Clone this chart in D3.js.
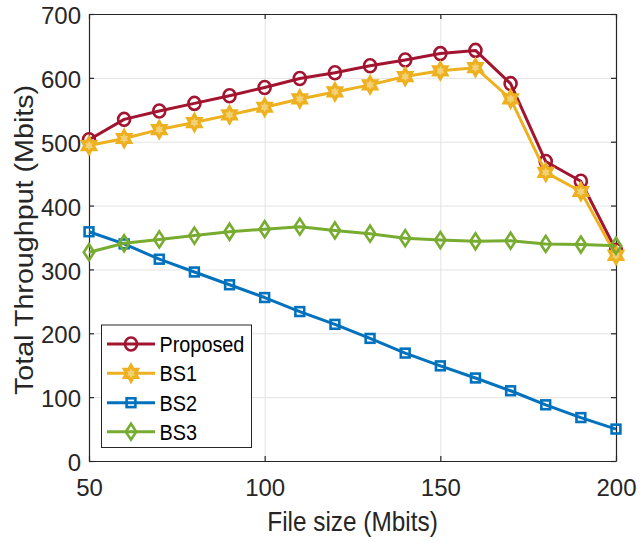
<!DOCTYPE html>
<html>
<head>
<meta charset="utf-8">
<script src="https://cdn.jsdelivr.net/npm/d3@7"></script>
<style>
  html, body { margin: 0; padding: 0; background: #fff; }
  svg { display: block; font-family: "Liberation Sans", Arial, Helvetica, sans-serif; }
</style>
</head>
<body>
<svg id="chart" width="643" height="542"></svg>
<script>
// File size (Mbits) on the x axis
const fileSize = [50, 60, 70, 80, 90, 100, 110, 120, 130, 140, 150, 160, 170, 180, 190, 200];
// Total throughput (Mbits) per scheme
const proposed = [503, 535, 548, 560, 572, 585, 599, 608, 619, 628, 638, 643, 591, 469, 438, 330];
const bs1      = [494, 505, 519, 530, 542, 554, 567, 578, 589, 602, 611, 616, 567, 452, 422, 322];
const bs2      = [359, 340, 316, 296, 276, 256, 234, 214, 192, 169, 149, 130, 110, 88, 68, 50];
const bs3      = [327, 341, 347, 353, 359, 363, 367, 361, 356, 349, 346, 344, 345, 340, 339, 337];

const seriesNames = ["Proposed", "BS1", "BS2", "BS3"];
const xTicks = [50, 100, 150, 200];
const yTicks = [0, 100, 200, 300, 400, 500, 600, 700];

const series = [
  { name: seriesNames[0], values: proposed, color: "#A2142F", marker: "circle" },
  { name: seriesNames[1], values: bs1,      color: "#EDB120", marker: "hexagram" },
  { name: seriesNames[2], values: bs2,      color: "#0072BD", marker: "square" },
  { name: seriesNames[3], values: bs3,      color: "#77AC30", marker: "diamond" }
];

const svg = d3.select("#chart");
const plotL = 89, plotR = 616, plotT = 14, plotB = 461;
const W = plotR - plotL, H = plotB - plotT;
const ink = "#262626";

const x = d3.scaleLinear().domain([50, 200]).range([plotL, plotR]);
const y = d3.scaleLinear().domain([0, 700]).range([plotB, plotT]);

// grid lines
const grid = svg.append("g").attr("class", "grid");
grid.append("g").attr("transform", `translate(0,${plotB})`)
  .call(d3.axisBottom(x).tickValues(xTicks).tickSize(-H).tickFormat(""))
  .call(g => g.select(".domain").remove());
grid.append("g").attr("transform", `translate(${plotL},0)`)
  .call(d3.axisLeft(y).tickValues(yTicks).tickSize(-W).tickFormat(""))
  .call(g => g.select(".domain").remove());
grid.selectAll("line").attr("stroke", "#e3e3e3").attr("stroke-width", 1);

// axes (box with inward ticks)
const tickLen = 5;
const axB = svg.append("g").attr("transform", `translate(0,${plotB})`)
  .call(d3.axisBottom(x).tickValues(xTicks).tickSizeInner(-tickLen).tickSizeOuter(0).tickPadding(18).tickFormat(d3.format("d")));
const axL = svg.append("g").attr("transform", `translate(${plotL},0)`)
  .call(d3.axisLeft(y).tickValues(yTicks).tickSizeInner(-tickLen).tickSizeOuter(0).tickPadding(8).tickFormat(d3.format("d")));
const axT = svg.append("g").attr("transform", `translate(0,${plotT})`)
  .call(d3.axisTop(x).tickValues(xTicks).tickSizeInner(-tickLen).tickSizeOuter(0).tickFormat(""));
const axR = svg.append("g").attr("transform", `translate(${plotR},0)`)
  .call(d3.axisRight(y).tickValues(yTicks).tickSizeInner(-tickLen).tickSizeOuter(0).tickFormat(""));

[axB, axL, axT, axR].forEach(a => {
  a.select(".domain").attr("stroke", ink).attr("stroke-width", 1.2);
  a.selectAll(".tick line").attr("stroke", ink).attr("stroke-width", 1.2);
  a.selectAll(".tick text").attr("fill", ink).attr("font-size", 24)
    .attr("font-family", "Liberation Sans, Arial, sans-serif");
});
axL.selectAll(".tick text").attr("dy", "0.40em");

// axis titles
svg.append("text")
  .attr("transform", `translate(${(plotL + plotR) / 2},531) scale(0.87,1)`)
  .attr("text-anchor", "middle").attr("font-size", 28).attr("fill", ink)
  .text("File size (Mbits)");
svg.append("text")
  .attr("transform", `translate(33,240) rotate(-90) scale(1,0.87)`)
  .attr("text-anchor", "middle").attr("font-size", 28.7).attr("fill", ink)
  .text("Total Throughput (Mbits)");

// marker shapes
function hexagramPath(R) {
  const r = R / Math.sqrt(3);
  const pts = [];
  for (let i = 0; i < 12; i++) {
    const a = -Math.PI / 2 + i * Math.PI / 6;
    const rr = i % 2 === 0 ? R : r;
    pts.push([rr * Math.cos(a), rr * Math.sin(a)]);
  }
  return "M" + pts.map(p => p.join(",")).join("L") + "Z";
}
function drawMarker(g, type, color) {
  const sw = 2.6;
  if (type === "circle") {
    g.append("ellipse").attr("rx", 6.0).attr("ry", 6.5)
      .attr("fill", "none").attr("stroke", color).attr("stroke-width", sw);
  } else if (type === "square") {
    g.append("rect").attr("x", -4.4).attr("y", -4.4).attr("width", 8.8).attr("height", 8.8)
      .attr("fill", "none").attr("stroke", color).attr("stroke-width", sw);
  } else if (type === "diamond") {
    g.append("path").attr("d", "M0,-8L5.2,0L0,8L-5.2,0Z")
      .attr("fill", "none").attr("stroke", color).attr("stroke-width", sw);
  } else if (type === "hexagram") {
    g.append("path").attr("d", hexagramPath(8))
      .attr("transform", "scale(0.95,1)")
      .attr("fill", "#f3cf75").attr("stroke", color).attr("stroke-width", 3.2)
      .attr("stroke-linejoin", "miter");
  }
}

// series lines and markers
const line = d3.line().x((d, i) => x(fileSize[i])).y(d => y(d));
series.forEach(s => {
  const g = svg.append("g").attr("class", "series");
  g.append("path").datum(s.values).attr("d", line)
    .attr("fill", "none").attr("stroke", s.color).attr("stroke-width", 3)
    .attr("stroke-linejoin", "round");
  s.values.forEach((v, i) => {
    const m = g.append("g").attr("transform", `translate(${x(fileSize[i])},${y(v)})`);
    drawMarker(m, s.marker, s.color);
  });
});

// legend
const lg = svg.append("g").attr("class", "legend");
lg.append("rect").attr("x", 101.5).attr("y", 325).attr("width", 150).attr("height", 122.5)
  .attr("fill", "#fff").attr("stroke", ink).attr("stroke-width", 1);
const rowY = [344, 373.3, 402.7, 431.7];
series.forEach((s, i) => {
  const row = lg.append("g");
  row.append("line").attr("x1", 107).attr("x2", 155).attr("y1", rowY[i]).attr("y2", rowY[i])
    .attr("stroke", s.color).attr("stroke-width", 3);
  const m = row.append("g").attr("transform", `translate(131,${rowY[i]})`);
  drawMarker(m, s.marker, s.color);
  row.append("text")
    .attr("transform", `translate(159.5,${rowY[i] + 8}) scale(0.87,1)`)
    .attr("font-size", 22.8).attr("fill", "#000")
    .text(s.name);
});
</script>
</body>
</html>
